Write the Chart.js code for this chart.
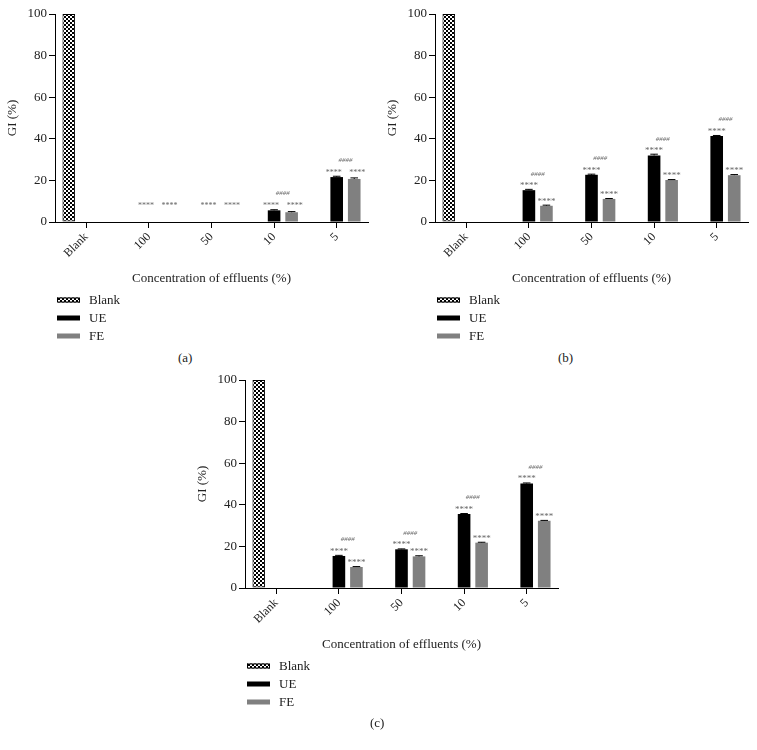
<!doctype html>
<html lang="en">
<head>
<meta charset="UTF-8">
<title>GI (%)</title>
<script src="https://cdn.jsdelivr.net/npm/chart.js"></script>
<style>
  body { margin: 0; background: #fff; font-family: 'Liberation Serif', 'DejaVu Serif', serif; }
  .wrap { position: relative; width: 757px; height: 750px; overflow: hidden; }
  .panel { position: absolute; width: 377px; height: 350px; }
  .caption { position: absolute; font-size: 13px; line-height: 16px; color: #222; }
</style>
</head>
<body>
<div class="wrap">
  <div class="panel" style="left:0;top:0"><canvas id="chartA"></canvas></div>
  <div class="panel" style="left:380px;top:0"><canvas id="chartB"></canvas></div>
  <div class="panel" style="left:190px;top:366px"><canvas id="chartC"></canvas></div>
  <div class="caption" style="left:178px;top:350px">(a)</div>
  <div class="caption" style="left:558px;top:350px">(b)</div>
  <div class="caption" style="left:370px;top:715px">(c)</div>
</div>
<script>
// categories and tick labels
const categories = ['Blank', '100', '50', '10', '5'];
const yTicks = [0, 20, 40, 60, 80, 100];
const seriesNames = ['Blank', 'UE', 'FE'];

// values (GI %)
const blankVals = [100, null, null, null, null];

const ueA = [null, 0, 0, 5.6, 21.6];
const feA = [null, 0, 0, 4.7, 20.7];
const ueErrA = [null, 0, 0, 0.3, 0.4];
const feErrA = [null, 0, 0, 0.3, 0.5];

const ueB = [null, 15.3, 22.7, 32.0, 41.3];
const feB = [null, 7.8, 11.1, 20.2, 22.5];
const ueErrB = [null, 0.4, 0.3, 0.6, 0.3];
const feErrB = [null, 0.3, 0.2, 0.2, 0.3];

const ueC = [null, 15.4, 18.6, 35.6, 50.2];
const feC = [null, 10.1, 15.2, 21.8, 32.3];
const ueErrC = [null, 0.3, 0.2, 0.2, 0.3];
const feErrC = [null, 0.2, 0.3, 0.2, 0.2];

// significance marks
const starA = ['', '****', '****', '****', '****'];
const hashA = ['', '', '', '####', '####'];
const starB = ['', '****', '****', '****', '****'];
const hashB = ['', '####', '####', '####', '####'];
const starC = ['', '****', '****', '****', '****'];
const hashC = ['', '####', '####', '####', '####'];

const SERIF = "'Liberation Serif', 'DejaVu Serif', serif";
Chart.defaults.font.family = SERIF;
Chart.defaults.font.size = 12;
Chart.defaults.color = '#222';

function checker() {
  const c = document.createElement('canvas');
  c.width = 4; c.height = 4;
  const g = c.getContext('2d');
  g.fillStyle = '#fff';
  g.fillRect(0, 0, 4, 4);
  g.fillStyle = '#000';
  g.fillRect(0, 0, 2, 2);
  g.fillRect(2, 2, 2, 2);
  return g.createPattern(c, 'repeat');
}

// small error bars
const errorBars = {
  id: 'errorBars',
  afterDatasetsDraw(chart) {
    const ctx = chart.ctx;
    const y = chart.scales.y;
    ctx.save();
    ctx.strokeStyle = '#000';
    ctx.lineWidth = 1;
    chart.data.datasets.forEach((ds, d) => {
      if (!ds.errors) return;
      chart.getDatasetMeta(d).data.forEach((bar, i) => {
        const v = ds.data[i], e = ds.errors[i];
        if (v == null || !e) return;
        const top = y.getPixelForValue(v + e);
        const cap = bar.width * 0.3;
        ctx.beginPath();
        ctx.moveTo(bar.x, bar.y);
        ctx.lineTo(bar.x, top);
        ctx.moveTo(bar.x - cap, top);
        ctx.lineTo(bar.x + cap, top);
        ctx.stroke();
      });
    });
    ctx.restore();
  }
};

// **** over each bar, #### over each pair
const sigMarks = {
  id: 'sigMarks',
  afterDraw(chart, args, opts) {
    const ctx = chart.ctx;
    const base = chart.scales.y.getPixelForValue(0);
    const ue = chart.getDatasetMeta(1).data;
    const fe = chart.getDatasetMeta(2).data;
    ctx.save();
    ctx.fillStyle = '#666';
    ctx.textAlign = 'center';
    ctx.textBaseline = 'middle';
    opts.stars.forEach((s, i) => {
      if (!s) return;
      let yu = ue[i].y - 6.5, yf = fe[i].y - 6.5;
      let xu = ue[i].x, xf = fe[i].x;
      if (opts.align) {
        // pairs share one row and are spread apart so they don't run together
        yu = yf = Math.min(ue[i].y, fe[i].y, base - 12) - 6.5;
        xu -= 3;
        xf += 3;
        ctx.font = '8px ' + SERIF;
      } else {
        ctx.font = '9px ' + SERIF;
      }
      ctx.fillText(s, xu, yu + 2);
      ctx.fillText(s, xf, yf + 2);
      if (opts.hashes[i]) {
        ctx.font = 'italic 7px ' + SERIF;
        ctx.fillText(opts.hashes[i], (ue[i].x + fe[i].x) / 2, Math.min(yu, yf) - 10);
      }
    });
    ctx.restore();
  }
};

// legend stacked under the axis title
const stackLegend = {
  id: 'stackLegend',
  afterDraw(chart) {
    const ctx = chart.ctx;
    const x0 = chart.chartArea.left + 2;
    let y = chart.scales.x.bottom + 10;
    ctx.save();
    ctx.font = '13px ' + SERIF;
    ctx.textBaseline = 'middle';
    chart.data.datasets.forEach(ds => {
      ctx.fillStyle = ds.backgroundColor;
      ctx.fillRect(x0, y - 2.5, 23, 5);
      if (ds.borderWidth) {
        ctx.strokeStyle = '#000';
        ctx.lineWidth = 1;
        ctx.strokeRect(x0 + 0.5, y - 2, 22, 4);
      }
      ctx.fillStyle = '#222';
      ctx.fillText(ds.label, x0 + 32, y + 1);
      y += 18;
    });
    ctx.restore();
  }
};

function makeChart(id, ue, fe, ueErr, feErr, stars, hashes, align) {
  const pattern = checker();
  return new Chart(document.getElementById(id), {
    type: 'bar',
    data: {
      labels: categories,
      datasets: [
        { label: seriesNames[0], data: blankVals, backgroundColor: pattern, borderColor: '#000', borderWidth: 1, borderSkipped: false },
        { label: seriesNames[1], data: ue, errors: ueErr, backgroundColor: '#000', borderWidth: 0 },
        { label: seriesNames[2], data: fe, errors: feErr, backgroundColor: '#808080', borderWidth: 0 }
      ]
    },
    options: {
      responsive: true,
      maintainAspectRatio: false,
      animation: false,
      categoryPercentage: 0.84,
      barPercentage: 0.72,
      layout: { padding: { top: 14, right: 9, bottom: 60, left: 0 } },
      plugins: {
        legend: { display: false },
        tooltip: { enabled: false },
        sigMarks: { stars: stars, hashes: hashes, align: align }
      },
      scales: {
        x: {
          offset: true,
          grid: { display: true, offset: false, drawOnChartArea: false, drawTicks: true, tickLength: 6, color: '#000' },
          border: { display: true, color: '#000', width: 1 },
          ticks: { minRotation: 45, maxRotation: 45, padding: 2, color: '#222', font: { size: 12 } },
          title: { display: true, text: 'Concentration of effluents (%)', font: { size: 13 }, color: '#222', padding: { top: 4, bottom: 4 } },
          afterFit(scale) { scale.height = 68; }
        },
        y: {
          min: 0,
          max: 100,
          afterBuildTicks(scale) { scale.ticks = yTicks.map(v => ({ value: v })); },
          grid: { display: true, drawOnChartArea: false, drawTicks: true, tickLength: 6, color: '#000' },
          border: { display: true, color: '#000', width: 1 },
          ticks: { padding: 2, color: '#222', font: { size: 13 } },
          title: { display: true, text: 'GI (%)', font: { size: 13 }, color: '#222', padding: { top: 5, bottom: 0 } },
          afterFit(scale) { scale.width = 55; }
        }
      }
    },
    plugins: [errorBars, sigMarks, stackLegend]
  });
}

makeChart('chartA', ueA, feA, ueErrA, feErrA, starA, hashA, true);
makeChart('chartB', ueB, feB, ueErrB, feErrB, starB, hashB, false);
makeChart('chartC', ueC, feC, ueErrC, feErrC, starC, hashC, false);
</script>
</body>
</html>
